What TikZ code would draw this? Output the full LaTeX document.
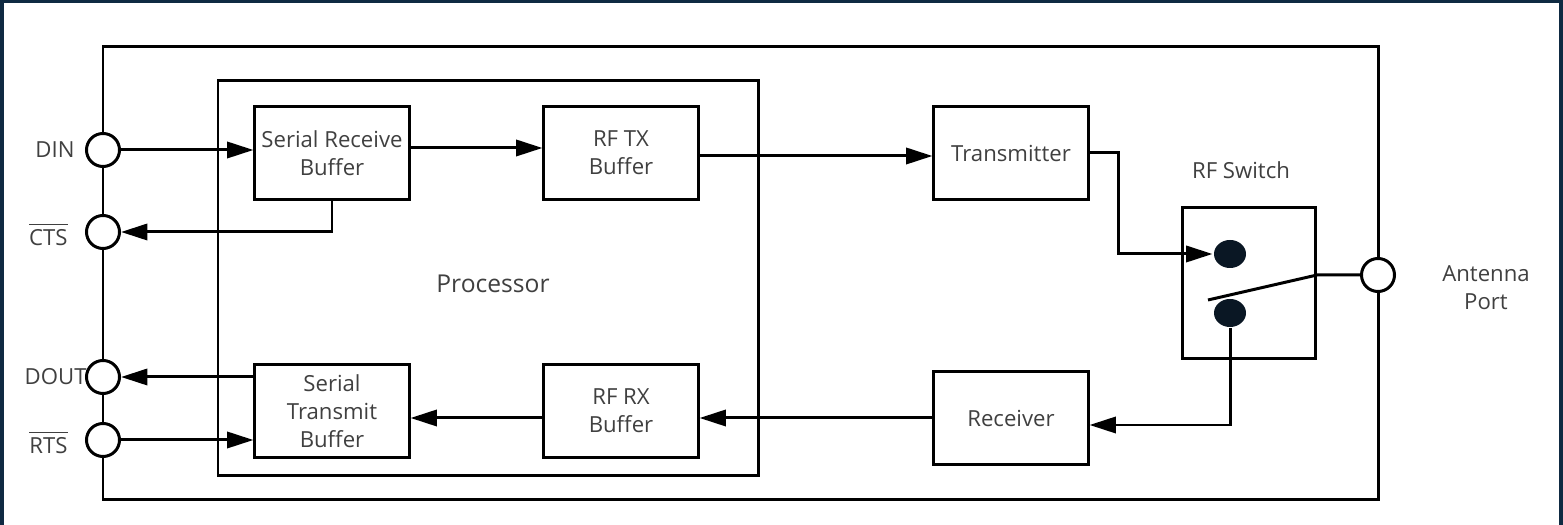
\documentclass[tikz,border=0pt]{standalone}
\usepackage{fontspec}
\setmainfont{Open Sans}
\usetikzlibrary{%
  arrows.meta,%
  shapes.geometric,% wg. ellipse
  positioning%
}
\definecolor{framebg}{HTML}{0F2A42}
\definecolor{labelgray}{HTML}{404040}
\definecolor{dotfill}{HTML}{0A1724}

\begin{document}
\begin{tikzpicture}
  [
  x=0.01cm, y=-0.01cm,
  font=\fontsize{6.3}{8}\selectfont,
  line width=0.85pt,
  draw=black, >={Triangle[length=7.5pt,width=4.6pt]},
  blocknode/.style={rectangle, draw=black, text=labelgray, align=center, inner sep=0pt, minimum width=1.54cm, minimum height=0.92cm},
  portnode/.style={circle, draw=black, fill=white, inner sep=0pt, minimum size=0.33cm},
  dotnode/.style={ellipse, fill=dotfill, inner sep=0pt, minimum width=0.32cm, minimum height=0.28cm},
  pinlabel/.style={text=labelgray, anchor=east, inner sep=0pt},
  ]

\useasboundingbox (0,0) rectangle (1563,525);
\fill[framebg] (0,0) rectangle (1563,525);
\fill[white] (4,3) rectangle (1559,525);

% module and processor outlines
\draw (103,47) rectangle (1378,500);
\draw (218,81) rectangle (758,476);
\node[text=labelgray,font=\fontsize{7}{9}\selectfont] (proc) at (493,284) {Processor};

% blocks
\node[blocknode] (srb) at (332,153) {Serial Receive\\Buffer};
\node[blocknode] (rftx) at (621,153) {RF TX\\Buffer};
\node[blocknode] (stb) at (332,411) {Serial\\Transmit\\Buffer};
\node[blocknode] (rfrx) at (621,411) {RF RX\\Buffer};
\node[blocknode] (tx) at (1011,153) {Transmitter};
\node[blocknode] (rx) at (1011,418) {Receiver};
\node[blocknode, minimum width=1.33cm, minimum height=1.51cm] (sw) at (1249,283) {};
\node[text=labelgray] (swlabel) at (1241,170) {RF Switch};

% ports
\node[portnode] (din) at (103,150) {};
\node[portnode] (cts) at (103,232) {};
\node[portnode] (dout) at (103,377) {};
\node[portnode] (rts) at (103,440) {};
\node[portnode] (ant) at (1378,275) {};

\node[pinlabel] (dinlabel) at (76,150) {DIN};
\node[pinlabel] (ctslabel) at (69,234) {$\overline{\mbox{CTS}}$};
\node[pinlabel] (doutlabel) at (88,377) {DOUT};
\node[pinlabel] (rtslabel) at (69,442) {$\overline{\mbox{RTS}}$};
\node[text=labelgray, align=center] (antlabel) at (1486,288) {Antenna\\Port};

% switch contacts
\node[dotnode] (dota) at (1230,254) {};
\node[dotnode] (dotb) at (1230,313) {};
\coordinate (armtip) at (1208,300);
\draw (armtip) -- (sw.east |- ant.west) -- (ant.west);

% transmit path
\draw[->] (din.east) -- (srb.west |- din.east);
\draw[->] (srb.south) |- (cts.east);
\draw[->] ([yshift=0.05cm]srb.east) -- ([yshift=0.05cm]rftx.west);
\draw[->] ([yshift=-0.03cm]rftx.east) -- ([yshift=-0.03cm]tx.west);
\draw[->] (tx.east) -- ++(29,0) |- (dota.west);

% receive path
\draw[->] (dotb.south) |- ([yshift=-0.07cm]rx.east);
\draw[->] (rx.west) -- (rfrx.east |- rx.west);
\draw[->] (rfrx.west |- rx.west) -- (stb.east |- rx.west);
\draw[->] (stb.west |- dout.east) -- (dout.east);
\draw[->] (rts.east) -- (stb.west |- rts.east);
\end{tikzpicture}
\end{document}
